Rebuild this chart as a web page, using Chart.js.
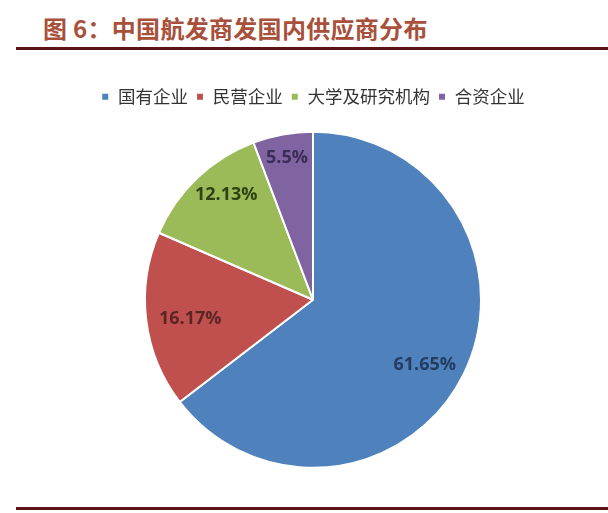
<!DOCTYPE html>
<html>
<head>
<meta charset="utf-8">
<script src="https://cdn.jsdelivr.net/npm/chart.js@4.4.1/dist/chart.umd.min.js"></script>
<style>
  html, body { margin: 0; padding: 0; background: #fff; }
  #wrap { position: relative; width: 608px; height: 513px; overflow: hidden; }
  #title {
    position: absolute; left: 43px; top: 15px;
    font: bold 24px "Noto Sans CJK SC", sans-serif; line-height: 26px;
    color: #a9503a; white-space: nowrap; letter-spacing: 0.3px;
  }
  .rule { position: absolute; left: 16px; right: 0; height: 3px; background: #5c1414; }
  #c { position: absolute; left: 0; top: 0; }
</style>
</head>
<body>
<div id="wrap">
  <div id="title">图 6：中国航发商发国内供应商分布</div>
  <div class="rule" style="top:47px"></div>
  <canvas id="c" width="608" height="513"></canvas>
  <div class="rule" style="top:507px"></div>
</div>
<script>
// 供应商类别及占比（%）
const categories = ['国有企业', '民营企业', '大学及研究机构', '合资企业'];
const shares = [61.65, 16.17, 12.13, 5.5];
const sliceColors = ['#4f81bd', '#c0504d', '#9bbb59', '#8064a2'];
const labelColors = ['#233d62', '#5a2624', '#2f4214', '#3b2d57'];

// draw the percentage text inside each slice
const sliceLabels = {
  id: 'sliceLabels',
  afterDatasetsDraw(chart, args, opts) {
    const ctx = chart.ctx;
    const meta = chart.getDatasetMeta(0);
    ctx.save();
    ctx.font = 'bold 18px "Open Sans", sans-serif';
    ctx.textAlign = 'center';
    ctx.textBaseline = 'middle';
    meta.data.forEach((arc, i) => {
      const p = arc.getProps(['x', 'y', 'startAngle', 'endAngle', 'outerRadius']);
      const mid = (p.startAngle + p.endAngle) / 2 + opts.shift[i] * Math.PI / 180;
      const r = p.outerRadius * opts.ratios[i];
      ctx.fillStyle = labelColors[i];
      ctx.fillText(shares[i] + '%', p.x + Math.cos(mid) * r, p.y + Math.sin(mid) * r);
    });
    ctx.restore();
  }
};

new Chart(document.getElementById('c').getContext('2d'), {
  type: 'pie',
  data: {
    labels: categories,
    datasets: [{
      data: shares,
      backgroundColor: sliceColors,
      borderColor: '#ffffff',
      borderWidth: 2,
      radius: 168
    }]
  },
  options: {
    responsive: false,
    animation: false,
    devicePixelRatio: 1,
    layout: { padding: { top: 80, bottom: 29, left: 18, right: 0 } },
    plugins: {
      tooltip: { enabled: false },
      legend: {
        position: 'top',
        labels: {
          boxWidth: 8,
          boxHeight: 8,
          padding: 8,
          color: '#333333',
          font: { size: 17.5, family: '"Noto Sans CJK SC", sans-serif' }
        }
      },
      sliceLabels: { ratios: [0.77, 0.74, 0.81, 0.86], shift: [4, -2, 4, 0] }
    }
  },
  plugins: [sliceLabels]
});
</script>
</body>
</html>
